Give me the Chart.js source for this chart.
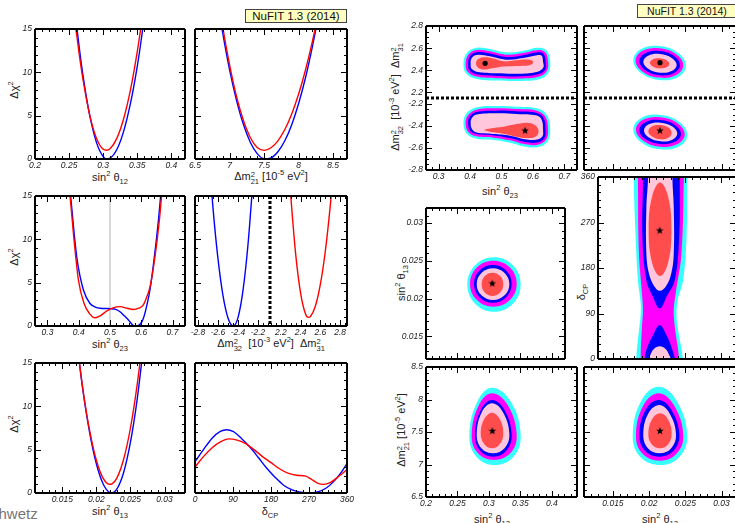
<!DOCTYPE html>
<html>
<head>
<meta charset="utf-8">
<script src="https://cdn.jsdelivr.net/npm/chart.js@4.4.1/dist/chart.umd.min.js"></script>
<style>
body{margin:0;width:735px;height:523px;overflow:hidden;background:#fff;position:relative;font-family:"Liberation Sans",Arial,sans-serif}
canvas{position:absolute}
.lab{position:absolute;transform:translate(-50%,-50%);font-size:11px;color:#222;white-space:nowrap;line-height:12px}
.rot{transform:translate(-50%,-50%) rotate(-90deg)}
.lab sup,.lab sub{font-size:7.5px;line-height:0}
.ss{display:inline-block;vertical-align:-4px;line-height:7px;font-size:7.5px}
.ss span{display:block}
.nufit{position:absolute;box-sizing:border-box;background:#ffffc0;border:1px solid #444;text-align:center;color:#111}
</style>
</head>
<body>

<div class="nufit" style="left:245px;top:9px;width:102px;height:14px;font-size:11.5px;line-height:12px">NuFIT 1.3 (2014)</div>
<div class="nufit" style="left:637px;top:4px;width:100px;height:14px;font-size:10.5px;line-height:12px">NuFIT 1.3 (2014)</div>

<div class="lab rot" style="left:14px;top:90px">Δχ<sup>2</sup></div>
<div class="lab rot" style="left:14px;top:257px">Δχ<sup>2</sup></div>
<div class="lab rot" style="left:14px;top:424px">Δχ<sup>2</sup></div>
<div class="lab" style="left:110px;top:177px">sin<sup>2</sup> θ<sub>12</sub></div>
<div class="lab" style="left:271px;top:177px">Δm<span class="ss"><span>2</span><span>21</span></span> [10<sup>-5</sup> eV<sup>2</sup>]</div>
<div class="lab" style="left:110px;top:344px">sin<sup>2</sup> θ<sub>23</sub></div>
<div class="lab" style="left:271px;top:344px">Δm<span class="ss"><span>2</span><span>32</span></span> &nbsp;[10<sup>-3</sup> eV<sup>2</sup>] &nbsp;Δm<span class="ss"><span>2</span><span>31</span></span></div>
<div class="lab" style="left:110px;top:511px">sin<sup>2</sup> θ<sub>13</sub></div>
<div class="lab" style="left:270px;top:511px">δ<sub>CP</sub></div>

<div class="lab" style="left:500px;top:191px">sin<sup>2</sup> θ<sub>23</sub></div>
<div class="lab rot" style="left:396px;top:97px">Δm<span class="ss"><span>2</span><span>32</span></span> &nbsp;[10<sup>-3</sup> eV<sup>2</sup>] &nbsp;Δm<span class="ss"><span>2</span><span>31</span></span></div>
<div class="lab rot" style="left:401px;top:283px">sin<sup>2</sup> θ<sub>13</sub></div>
<div class="lab rot" style="left:581px;top:292px">δ<sub>CP</sub></div>
<div class="lab rot" style="left:402px;top:430px">Δm<span class="ss"><span>2</span><span>21</span></span> [10<sup>-5</sup> eV<sup>2</sup>]</div>
<div class="lab" style="left:492px;top:519px">sin<sup>2</sup> θ<sub>12</sub></div>
<div class="lab" style="left:660px;top:519px">sin<sup>2</sup> θ<sub>13</sub></div>

<div style="position:absolute;left:-19px;top:505px;font-size:15px;color:#777">Schwetz</div>

<script>
// ---- Delta chi^2 profiles (blue = inverted, red = normal ordering)
const s12X    = [0.255, 0.26, 0.265, 0.27, 0.28, 0.29, 0.30, 0.305, 0.31, 0.32, 0.33, 0.34, 0.35, 0.355, 0.36, 0.365];
const s12Blue = [19.8, 16.1, 12.8, 9.85, 5.14, 1.95, 0.27, 0.01, 0.09, 1.09, 3.19, 6.41, 10.7, 13.3, 16.2, 19.3];
const s12Red  = [18.4, 15.0, 12.0, 9.36, 5.16, 2.42, 1.12, 1.01, 1.19, 2.38, 4.64, 7.97, 12.4, 15.0, 17.9, 21.0];

const dm21X    = [6.8, 6.9, 7.0, 7.1, 7.2, 7.3, 7.4, 7.5, 7.6, 7.7, 7.8, 7.9, 8.0, 8.1, 8.2, 8.3];
const dm21Blue = [19.6, 14.6, 10.3, 6.8, 4.0, 1.94, 0.62, 0.03, 0.14, 0.84, 2.1, 3.96, 6.4, 9.4, 13.0, 17.1];
const dm21Red  = [20.6, 15.3, 10.9, 7.25, 4.46, 2.48, 1.33, 1.0, 1.30, 2.1, 3.4, 5.2, 7.5, 10.3, 13.6, 17.4];

const s23BlueX = [0.368, 0.374, 0.385, 0.395, 0.415, 0.436, 0.455, 0.468, 0.503, 0.52, 0.532, 0.545, 0.559, 0.575, 0.583, 0.597, 0.607, 0.617, 0.628, 0.638, 0.655, 0.662, 0.668];
const s23Blue  = [17.5, 15, 10.8, 7.6, 4.15, 2.6, 2.15, 2.05, 2.0, 1.9, 1.65, 1.2, 0.69, 0.05, 0.0, 0.23, 0.9, 2.23, 4.2, 6.8, 12.2, 15, 17.5];
const s23RedX  = [0.365, 0.372, 0.385, 0.399, 0.417, 0.435, 0.452, 0.47, 0.49, 0.51, 0.532, 0.555, 0.574, 0.592, 0.606, 0.617, 0.628, 0.644, 0.658, 0.665, 0.672];
const s23Red   = [17, 15, 9.9, 5.3, 2.6, 1.4, 0.95, 1.2, 1.75, 2.1, 2.23, 2.05, 1.9, 2.05, 2.4, 3.3, 4.5, 8.0, 12.2, 15, 18];

const dm32X    = [-2.68, -2.65, -2.6, -2.55, -2.5, -2.447, -2.4, -2.35, -2.3, -2.25];
const dm32Blue = [18, 13.6, 7.74, 3.5, 0.93, 0, 0.96, 4.1, 9.4, 16.8];
const dm31X    = [2.28, 2.3, 2.35, 2.4, 2.45, 2.48, 2.5, 2.55, 2.6, 2.65, 2.7, 2.73];
const dm31Red  = [18.4, 15.1, 8.3, 3.8, 1.39, 1.0, 1.1, 2.3, 4.8, 8.6, 13.8, 17.6];

const s13X    = [0.017, 0.018, 0.019, 0.020, 0.021, 0.022, 0.0223, 0.023, 0.024, 0.025, 0.026, 0.027];
const s13Blue = [18.3, 12.0, 7.03, 3.37, 1.04, 0.04, 0.0, 0.44, 2.37, 5.86, 10.9, 17.5];
const s13Red  = [18.4, 12.1, 7.25, 3.78, 1.69, 1.0, 1.06, 1.72, 3.9, 7.5, 12.6, 19.0];

const cpBlueX = [0, 20, 40, 60, 75, 90, 110, 130, 150, 170, 190, 210, 230, 250, 270, 290, 310, 330, 345, 360];
const cpBlue  = [3.6, 5.0, 6.3, 7.1, 7.3, 7.1, 6.3, 5.3, 4.1, 2.85, 1.8, 0.9, 0.35, 0.08, 0, 0.12, 0.55, 1.4, 2.3, 3.4];
const cpRedX  = [0, 20, 40, 60, 80, 100, 120, 140, 160, 180, 200, 220, 240, 262, 275, 290, 305, 320, 340, 360];
const cpRed   = [3.0, 4.2, 5.2, 5.9, 6.25, 6.1, 5.7, 5.0, 4.2, 3.5, 2.8, 2.3, 2.05, 1.95, 1.6, 1.15, 1.0, 1.2, 1.9, 2.7];

const octant = [0.5];

// ---- Tick labels
const chiTicks  = [0, 5, 10, 15];
const s12Ticks  = [0.2, 0.25, 0.3, 0.35, 0.4];
const dm21Ticks = [6.5, 7, 7.5, 8, 8.5];
const s23Ticks  = [0.3, 0.4, 0.5, 0.6, 0.7];
const dm32Ticks = [-2.8, -2.6, -2.4, -2.2];
const dm31Ticks = [2.2, 2.4, 2.6, 2.8];
const s13Ticks  = [0.015, 0.02, 0.025, 0.03];
const cpTicks   = [0, 90, 180, 270, 360];

// ---- 2D allowed regions, outer to inner: 3sigma, 99%, 2sigma, 90%, 1sigma
const th23NO = [
  [[0.379,2.448],[0.389,2.554],[0.421,2.604],[0.463,2.592],[0.516,2.562],[0.569,2.577],[0.617,2.604],[0.644,2.577],[0.655,2.478],[0.649,2.379],[0.622,2.322],[0.559,2.304],[0.485,2.307],[0.421,2.322],[0.389,2.367]],
  [[0.386,2.448],[0.394,2.539],[0.421,2.583],[0.463,2.571],[0.516,2.541],[0.569,2.556],[0.617,2.583],[0.639,2.562],[0.648,2.478],[0.644,2.394],[0.620,2.343],[0.559,2.325],[0.485,2.328],[0.421,2.343],[0.394,2.382]],
  [[0.394,2.448],[0.399,2.525],[0.421,2.563],[0.463,2.551],[0.516,2.520],[0.569,2.536],[0.617,2.563],[0.634,2.548],[0.640,2.478],[0.639,2.408],[0.617,2.364],[0.559,2.346],[0.485,2.349],[0.421,2.364],[0.399,2.396]],
  [[0.402,2.448],[0.405,2.508],[0.421,2.538],[0.463,2.526],[0.516,2.496],[0.569,2.511],[0.617,2.538],[0.628,2.531],[0.632,2.478],[0.633,2.425],[0.615,2.388],[0.559,2.370],[0.485,2.373],[0.421,2.388],[0.405,2.413]],
  [[0.419,2.463],[0.426,2.502],[0.448,2.518],[0.474,2.506],[0.506,2.481],[0.548,2.491],[0.585,2.497],[0.601,2.475],[0.591,2.447],[0.548,2.438],[0.506,2.435],[0.474,2.420],[0.448,2.408],[0.426,2.424]]
];
const th23IO = [
  [[0.379,-2.379],[0.389,-2.288],[0.421,-2.234],[0.485,-2.222],[0.548,-2.228],[0.612,-2.243],[0.644,-2.303],[0.655,-2.439],[0.646,-2.544],[0.617,-2.592],[0.575,-2.589],[0.527,-2.553],[0.474,-2.529],[0.421,-2.517],[0.390,-2.475]],
  [[0.386,-2.379],[0.394,-2.303],[0.421,-2.255],[0.485,-2.243],[0.548,-2.249],[0.612,-2.264],[0.639,-2.318],[0.648,-2.439],[0.641,-2.529],[0.615,-2.571],[0.575,-2.568],[0.527,-2.532],[0.474,-2.508],[0.421,-2.496],[0.395,-2.460]],
  [[0.394,-2.379],[0.399,-2.317],[0.421,-2.276],[0.485,-2.264],[0.548,-2.270],[0.612,-2.285],[0.634,-2.332],[0.640,-2.439],[0.636,-2.515],[0.613,-2.551],[0.575,-2.548],[0.527,-2.512],[0.474,-2.488],[0.421,-2.476],[0.400,-2.446]],
  [[0.402,-2.379],[0.405,-2.334],[0.421,-2.300],[0.485,-2.288],[0.548,-2.294],[0.612,-2.309],[0.628,-2.349],[0.632,-2.439],[0.630,-2.498],[0.610,-2.526],[0.575,-2.523],[0.527,-2.490],[0.474,-2.475],[0.421,-2.462],[0.406,-2.429]],
  [[0.445,-2.440],[0.463,-2.425],[0.506,-2.409],[0.548,-2.385],[0.580,-2.373],[0.606,-2.394],[0.618,-2.448],[0.609,-2.497],[0.580,-2.512],[0.548,-2.500],[0.506,-2.472],[0.463,-2.455]]
];
const th13NO = [
  [[0.02509,2.441],[0.02402,2.556],[0.02145,2.619],[0.01888,2.592],[0.01781,2.491],[0.01888,2.376],[0.02145,2.313],[0.02402,2.340]],
  [[0.02472,2.445],[0.02375,2.545],[0.02143,2.599],[0.01910,2.576],[0.01813,2.489],[0.01910,2.388],[0.02143,2.334],[0.02375,2.357]],
  [[0.02426,2.447],[0.02344,2.529],[0.02145,2.574],[0.01946,2.554],[0.01864,2.483],[0.01946,2.400],[0.02145,2.355],[0.02344,2.375]],
  [[0.02380,2.449],[0.02312,2.512],[0.02150,2.547],[0.01987,2.532],[0.01919,2.477],[0.01987,2.414],[0.02150,2.379],[0.02312,2.394]],
  [[0.02278,2.458],[0.02239,2.491],[0.02145,2.508],[0.02050,2.498],[0.02011,2.468],[0.02050,2.435],[0.02145,2.418],[0.02239,2.428]]
];
const th13IO = [
  [[0.02527,-2.483],[0.02418,-2.366],[0.02154,-2.303],[0.01890,-2.330],[0.01781,-2.433],[0.01890,-2.550],[0.02154,-2.613],[0.02418,-2.585]],
  [[0.02491,-2.479],[0.02392,-2.378],[0.02155,-2.324],[0.01917,-2.347],[0.01818,-2.435],[0.01917,-2.535],[0.02155,-2.589],[0.02392,-2.566]],
  [[0.02440,-2.475],[0.02356,-2.393],[0.02152,-2.349],[0.01948,-2.368],[0.01864,-2.439],[0.01948,-2.521],[0.02152,-2.565],[0.02356,-2.546]],
  [[0.02389,-2.471],[0.02322,-2.408],[0.02159,-2.373],[0.01996,-2.388],[0.01929,-2.443],[0.01996,-2.507],[0.02159,-2.541],[0.02322,-2.526]],
  [[0.02311,-2.465],[0.02264,-2.417],[0.0215,-2.394],[0.02036,-2.408],[0.01989,-2.452],[0.02036,-2.496],[0.0215,-2.523],[0.02264,-2.509]]
];
const s12s13 = [
  [[0.3505,0.02187],[0.3381,0.02441],[0.3081,0.02547],[0.2781,0.02441],[0.2657,0.02187],[0.2781,0.01932],[0.3081,0.01826],[0.3381,0.01932]],
  [[0.3442,0.02198],[0.3333,0.02413],[0.3071,0.02502],[0.2809,0.02413],[0.2700,0.02198],[0.2809,0.01982],[0.3071,0.01893],[0.3333,0.01982]],
  [[0.3362,0.02196],[0.3274,0.02372],[0.3062,0.02445],[0.2850,0.02372],[0.2763,0.02196],[0.2850,0.02019],[0.3062,0.01946],[0.3274,0.02019]],
  [[0.3325,0.02191],[0.3249,0.02339],[0.3066,0.02401],[0.2882,0.02339],[0.2806,0.02191],[0.2882,0.02043],[0.3066,0.01981],[0.3249,0.02043]],
  [[0.3229,0.02189],[0.3179,0.02298],[0.3057,0.02343],[0.2935,0.02298],[0.2885,0.02189],[0.2935,0.02080],[0.3057,0.02034],[0.3179,0.02080]]
];
const s13cp = [
  [[0.01791,400],[0.01791,354],[0.01818,242],[0.0185,156],[0.01888,110],[0.01885,84],[0.01864,57],[0.01828,5],[0.0182,-40],[0.02464,-40],[0.02464,5],[0.02403,57],[0.02381,90],[0.02403,120],[0.02472,156],[0.02519,242],[0.02527,354],[0.02527,400]],
  [[0.0185,400],[0.0185,354],[0.01864,209],[0.01905,130],[0.01919,97],[0.01905,64],[0.01888,5],[0.01888,-40],[0.02412,-40],[0.02412,5],[0.02357,64],[0.02343,97],[0.0237,130],[0.0245,209],[0.02482,354],[0.02482,400]],
  [[0.01911,400],[0.01919,354],[0.01911,242],[0.01966,156],[0.0205,125],[0.0215,100],[0.0225,125],[0.02357,156],[0.02417,242],[0.02426,354],[0.02426,400]],
  [[0.0215,67],[0.0225,45],[0.0232,20],[0.02357,0],[0.0236,-40],[0.0194,-40],[0.01943,0],[0.0197,20],[0.0205,45]],
  [[0.01988,400],[0.01988,354],[0.01966,300],[0.01966,209],[0.0200,170],[0.0207,145],[0.0215,135],[0.0224,145],[0.0231,170],[0.02343,209],[0.02343,300],[0.02325,354],[0.02325,400]],
  [[0.0215,25],[0.0223,20],[0.0228,8],[0.0230,0],[0.0230,-40],[0.0200,-40],[0.0200,0],[0.0202,8],[0.0207,20]],
  [[0.02311,256],[0.02266,321],[0.02155,349],[0.02044,321],[0.01998,256],[0.02044,191],[0.02155,164],[0.02266,191]]
];
const s13cpLevels = [0, 1, 2, 2, 3, 3, 4];
const s12dm21 = [
  [[0.3505,7.45],[0.3342,7.977],[0.305,8.182],[0.2820,7.977],[0.2689,7.45],[0.2800,7.12],[0.309,6.992],[0.3390,7.12]],
  [[0.3442,7.45],[0.3299,7.914],[0.305,8.095],[0.2841,7.914],[0.2726,7.45],[0.2823,7.176],[0.308,7.069],[0.3342,7.176]],
  [[0.3362,7.46],[0.3245,7.843],[0.305,7.992],[0.2872,7.843],[0.2779,7.46],[0.2858,7.215],[0.307,7.120],[0.3280,7.215]],
  [[0.3325,7.47],[0.3221,7.809],[0.305,7.941],[0.2889,7.809],[0.2806,7.47],[0.2876,7.255],[0.3066,7.172],[0.3252,7.255]],
  [[0.3229,7.49],[0.3166,7.711],[0.3049,7.797],[0.2932,7.711],[0.2869,7.49],[0.2924,7.316],[0.3049,7.249],[0.3174,7.316]]
];
const s13dm21 = [
  [[0.02527,7.45],[0.02376,7.988],[0.0213,8.197],[0.01894,7.988],[0.01773,7.45],[0.01875,7.12],[0.0216,6.992],[0.02421,7.12]],
  [[0.02472,7.45],[0.02341,7.914],[0.0213,8.095],[0.01923,7.914],[0.01818,7.45],[0.01906,7.168],[0.0215,7.059],[0.02380,7.168]],
  [[0.02417,7.46],[0.02306,7.843],[0.0213,7.992],[0.01953,7.843],[0.01864,7.46],[0.01939,7.215],[0.0214,7.120],[0.02340,7.215]],
  [[0.02371,7.47],[0.02281,7.790],[0.0214,7.915],[0.01991,7.790],[0.01919,7.47],[0.01980,7.255],[0.02145,7.172],[0.02308,7.255]],
  [[0.02311,7.49],[0.02255,7.704],[0.0215,7.787],[0.02045,7.704],[0.01989,7.49],[0.02032,7.316],[0.0215,7.249],[0.02266,7.316]]
];

// best fit points
const best23NO = [0.448, 2.463];
const best13NO = [0.0215, 2.469];
const best23IO = [0.575, -2.445];
const best13IO = [0.0215, -2.445];
const best1213 = [0.3054, 0.0220];
const best13cp = [0.0215, 254];
const best1221 = [0.3054, 7.515];
const best1321 = [0.0215, 7.515];

// ---- Styles
const ringColors = ['#38ffff', '#ff00ff', '#0000ff', '#ffc6dc', '#ff4d4d'];
const PAD = {l: 40, r: 16, t: 10, b: 20};
Chart.defaults.font.family = '"Liberation Sans", Arial, sans-serif';

// filled star marker
function starImg(r) {
  const c = document.createElement('canvas');
  c.width = c.height = 2 * r + 2;
  const g = c.getContext('2d');
  g.fillStyle = '#000';
  g.beginPath();
  for (let i = 0; i < 10; i++) {
    const a = -Math.PI / 2 + i * Math.PI / 5, rr = i % 2 ? r * 0.42 : r;
    g.lineTo(r + 1 + rr * Math.cos(a), r + 1 + rr * Math.sin(a));
  }
  g.closePath();
  g.fill();
  return c;
}
const star = starImg(4);

// frame + inward ticks on every side
const framePlugin = {
  id: 'frame',
  afterDatasetsDraw(chart, args, o) {
    const {ctx, chartArea: a, scales: {x, y}} = chart;
    const side = k => o[k] || 's';
    ctx.save();
    ctx.strokeStyle = '#000';
    ctx.lineWidth = 1;
    ctx.beginPath();
    const marks = (sc, step, fn) => {
      const majors = sc.ticks.map(t => t.value);
      for (let i = Math.ceil(sc.min / step - 1e-6); i * step <= sc.max + 1e-9; i++) {
        const v = i * step;
        const big = majors.some(m => Math.abs(m - v) < step / 10);
        fn(Math.round(sc.getPixelForValue(v)) + 0.5, big ? 6 : 3);
      }
    };
    marks(x, o.mx, (p, l) => {
      if (side('b') === 's') { ctx.moveTo(p, a.bottom); ctx.lineTo(p, a.bottom - l); }
      if (side('t') === 's') { ctx.moveTo(p, a.top); ctx.lineTo(p, a.top + l); }
    });
    marks(y, o.my, (p, l) => {
      if (side('l') === 's') { ctx.moveTo(a.left, p); ctx.lineTo(a.left + l, p); }
      if (side('r') === 's') { ctx.moveTo(a.right, p); ctx.lineTo(a.right - l, p); }
    });
    ctx.stroke();
    const edges = {
      t: [a.left, a.top, a.right, a.top], b: [a.left, a.bottom, a.right, a.bottom],
      l: [a.left, a.top, a.left, a.bottom], r: [a.right, a.top, a.right, a.bottom]
    };
    for (const k in edges) {
      const s = side(k);
      if (s === 'n') continue;
      ctx.beginPath();
      ctx.lineWidth = s === 'd' ? 3 : 2;
      ctx.setLineDash(s === 'd' ? [3, 2] : []);
      const e = edges[k];
      ctx.moveTo(e[0], e[1]);
      ctx.lineTo(e[2], e[3]);
      ctx.stroke();
    }
    ctx.restore();
  }
};

function axis(s, dir) {
  return {
    type: 'linear', min: s.min, max: s.max,
    grid: {display: false, drawTicks: false}, border: {display: false},
    afterBuildTicks: sc => { sc.ticks = s.ticks.map(v => ({value: v})); },
    afterFit: sc => { if (dir === 'x') sc.height = PAD.b; else sc.width = PAD.l; },
    ticks: {
      display: !!s.show, padding: dir === 'x' ? 2 : 3, color: '#222', autoSkip: false, maxRotation: 0,
      font: {size: 8.5, style: 'italic'}, callback: v => String(v)
    }
  };
}

function panel(box, sx, sy, datasets, frame) {
  const cv = document.createElement('canvas');
  cv.width = box.w + PAD.l + PAD.r;
  cv.height = box.h + PAD.t + PAD.b;
  cv.style.left = (box.x - PAD.l) + 'px';
  cv.style.top = (box.y - PAD.t) + 'px';
  document.body.appendChild(cv);
  return new Chart(cv, {
    type: 'scatter',
    data: {datasets},
    options: {
      responsive: false, animation: false, events: [],
      layout: {padding: {left: 0, right: PAD.r, top: PAD.t, bottom: 0}},
      elements: {line: {capBezierPoints: false}},
      plugins: {legend: {display: false}, tooltip: {enabled: false}, frame},
      scales: {x: axis(sx, 'x'), y: axis(sy, 'y')}
    },
    plugins: [framePlugin]
  });
}

function curve(xs, ys, color, order) {
  return {
    data: xs.map((x, i) => ({x, y: ys[i]})), showLine: true, borderColor: color,
    borderWidth: 1.4, pointRadius: 0, cubicInterpolationMode: 'monotone', order
  };
}

function loop(pts) {
  const p = pts.map(q => ({x: q[0], y: q[1]}));
  return [p[p.length - 1], ...p, p[0], p[1]];
}

function rings(list, levels) {
  return list.map((pts, i) => {
    const lv = levels ? levels[i] : i;
    return {
      data: loop(pts), showLine: true, fill: 'shape', tension: 0.4,
      backgroundColor: ringColors[lv], borderColor: 'rgba(0,0,0,0)', borderWidth: 0,
      pointRadius: 0, order: 10 - lv
    };
  });
}

function marker(p, dot) {
  return {
    data: [{x: p[0], y: p[1]}], showLine: false, order: 0,
    pointStyle: dot ? 'circle' : star, pointRadius: dot ? 2.6 : 4,
    backgroundColor: '#000', borderColor: '#000', borderWidth: 0
  };
}

const chiY = show => ({min: 0, max: 15, ticks: chiTicks, show});

// ---- Left block: one-dimensional projections
panel({x: 35, y: 29, w: 150, h: 130}, {min: 0.2, max: 0.42, ticks: s12Ticks, show: true}, chiY(true),
  [curve(s12X, s12Blue, '#0000ff', 2), curve(s12X, s12Red, '#ff0000', 1)], {mx: 0.01, my: 1});
panel({x: 195, y: 29, w: 152, h: 130}, {min: 6.5, max: 8.7, ticks: dm21Ticks, show: true}, chiY(false),
  [curve(dm21X, dm21Blue, '#0000ff', 2), curve(dm21X, dm21Red, '#ff0000', 1)], {mx: 0.1, my: 1});

panel({x: 35, y: 196, w: 150, h: 130}, {min: 0.26, max: 0.74, ticks: s23Ticks, show: true}, chiY(true),
  [{data: [{x: octant[0], y: 0}, {x: octant[0], y: 15}], showLine: true, borderColor: '#cccccc', borderWidth: 1.5, pointRadius: 0, order: 5},
   curve(s23BlueX, s23Blue, '#0000ff', 2), curve(s23RedX, s23Red, '#ff0000', 1)], {mx: 0.02, my: 1});
panel({x: 195, y: 196, w: 75, h: 130}, {min: -2.83, max: -2.08, ticks: dm32Ticks, show: true}, chiY(false),
  [curve(dm32X, dm32Blue, '#0000ff', 1)], {mx: 0.05, my: 1, r: 'd'});
panel({x: 270, y: 196, w: 77, h: 130}, {min: 2.09, max: 2.87, ticks: dm31Ticks, show: true}, chiY(false),
  [curve(dm31X, dm31Red, '#ff0000', 1)], {mx: 0.05, my: 1, l: 'n'});

panel({x: 35, y: 363, w: 150, h: 130}, {min: 0.011, max: 0.033, ticks: s13Ticks, show: true}, chiY(true),
  [curve(s13X, s13Blue, '#0000ff', 2), curve(s13X, s13Red, '#ff0000', 1)], {mx: 0.001, my: 1});
panel({x: 195, y: 363, w: 152, h: 130}, {min: 0, max: 360, ticks: cpTicks, show: true}, chiY(false),
  [curve(cpBlueX, cpBlue, '#0000ff', 2), curve(cpRedX, cpRed, '#ff0000', 1)], {mx: 15, my: 1});

// ---- Right block: two-dimensional regions
panel({x: 426, y: 26, w: 151, h: 72}, {min: 0.26, max: 0.74, ticks: s23Ticks},
  {min: 2.15, max: 2.8, ticks: dm31Ticks, show: true},
  [...rings(th23NO), marker(best23NO, true)], {mx: 0.02, my: 0.05, b: 'd'});
panel({x: 426, y: 98, w: 151, h: 72}, {min: 0.26, max: 0.74, ticks: s23Ticks, show: true},
  {min: -2.8, max: -2.15, ticks: dm32Ticks, show: true},
  [...rings(th23IO), marker(best23IO, false)], {mx: 0.02, my: 0.05, t: 'n'});
panel({x: 584, y: 26, w: 152, h: 72}, {min: 0.011, max: 0.032, ticks: s13Ticks},
  {min: 2.15, max: 2.8, ticks: dm31Ticks},
  [...rings(th13NO), marker(best13NO, true)], {mx: 0.001, my: 0.05, b: 'd'});
panel({x: 584, y: 98, w: 152, h: 72}, {min: 0.011, max: 0.032, ticks: s13Ticks},
  {min: -2.8, max: -2.15, ticks: dm32Ticks},
  [...rings(th13IO), marker(best13IO, false)], {mx: 0.001, my: 0.05, t: 'n'});

panel({x: 426, y: 208, w: 139, h: 151}, {min: 0.2, max: 0.421, ticks: s12Ticks},
  {min: 0.012, max: 0.032, ticks: s13Ticks, show: true},
  [...rings(s12s13), marker(best1213, false)], {mx: 0.01, my: 0.001});
panel({x: 598, y: 177, w: 138, h: 182}, {min: 0.013, max: 0.032, ticks: s13Ticks},
  {min: 0, max: 360, ticks: cpTicks, show: true},
  [...rings(s13cp, s13cpLevels), marker(best13cp, false)], {mx: 0.001, my: 15});

panel({x: 426, y: 367, w: 151, h: 130}, {min: 0.2, max: 0.44, ticks: s12Ticks, show: true},
  {min: 6.5, max: 8.5, ticks: dm21Ticks, show: true},
  [...rings(s12dm21), marker(best1221, false)], {mx: 0.01, my: 0.1});
panel({x: 584, y: 367, w: 152, h: 130}, {min: 0.011, max: 0.032, ticks: s13Ticks, show: true},
  {min: 6.5, max: 8.5, ticks: dm21Ticks},
  [...rings(s13dm21), marker(best1321, false)], {mx: 0.001, my: 0.1});
</script>
</body>
</html>
